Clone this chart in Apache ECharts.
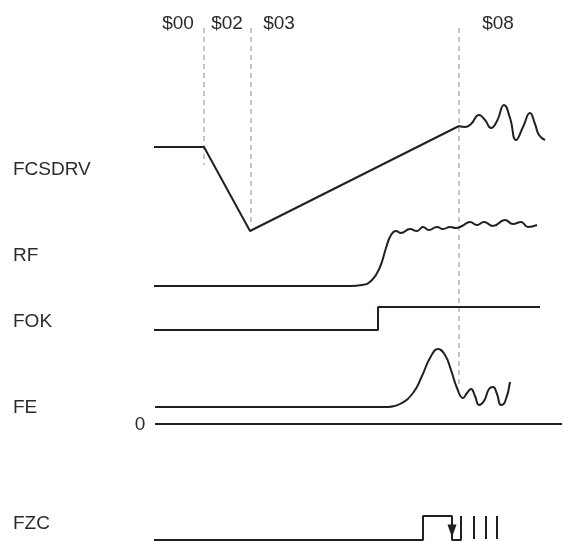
<!DOCTYPE html>
<html><head><meta charset="utf-8">
<script src="https://cdn.jsdelivr.net/npm/echarts@6/dist/echarts.min.js"></script>
<style>html,body{margin:0;padding:0;background:#fff}#c{width:563px;height:542px}</style>
</head><body><div id="c"></div>
<script>
// Time markers (x in time units) and their labels
const markerNames = ['$00', '$02', '$03', '$08'];
const markerLabelT = [178, 227, 279, 498];
const boundaryT = [204, 251, 459];
const boundaryEnd = [165, 222, 387];
const boundaryStart = 28;
const markerLabelY = 24;

// Signal names and label levels
const signalNames = ['FCSDRV', 'RF', 'FOK', 'FE', 'FZC'];
const signalLabelY = [170, 256, 322, 408, 524];
const signalLabelT = 13;
const zeroLabel = { text: '0', t: 140, y: 425 };

// Waveforms [t, level]
const fcsdrvLinear = [[154,147],[204,147],[250,231],[459,126]];
const fcsdrvWave = [[459,126],[465,127],[471,124],[479,115],[485,120],[491,128],[497,121],[504,105],[510,118],[516,140],[523,127],[530,113],[535,124],[539,135],[545,140]];
const rfFlat = [[154,286],[350,286]];
const rfRise = [[350,286],[362,285],[372,280],[380,267],[386,248],[391,235],[396,231],[401,233],[410,229],[417,231],[423,227],[429,230],[437,227],[443,229],[450,227],[456,228],[462,226],[470,222],[477,225],[484,222],[493,226],[505,220],[513,224],[521,222],[528,227],[537,225]];
const fok = [[154,330],[378,330],[378,307],[540,307]];
const feFlat = [[155,407],[388,407]];
const feCurve = [[388,407],[400,404],[413,393],[422,376],[430,358],[438,349],[445,355],[451,370],[457,388],[463,398],[467,393],[471,389],[475,396],[479,405],[484,401],[489,389],[493,387],[497,394],[501,405],[505,402],[510,382]];
const zeroLine = [[155,424],[562,424]];
const fzc = [[154,540],[423,540],[423,516],[452,516],[452,540],[461,540],[461,516]];
const fzcArrow = [[452,531]];
const fzcTicks = [474, 486, 497];
const fzcTickTop = 516, fzcTickBottom = 539;

const INK = '#231f20';
const TEXT = '#2b2b2b';
const FONT = 'Liberation Sans, Arial, sans-serif';

function line(data, smooth, width) {
  return { type: 'line', data, smooth: smooth || false, symbol: 'none', silent: true,
           lineStyle: { color: INK, width: width || 2 }, z: 3 };
}

const series = [
  line(fcsdrvLinear), line(fcsdrvWave, 0.5),
  line(rfFlat), line(rfRise, 0.5),
  line(fok),
  line(feFlat), line(feCurve, 0.5),
  line(zeroLine, false, 2.2),
  line(fzc),
];
fzcTicks.forEach(t => series.push(line([[t, fzcTickTop], [t, fzcTickBottom]])));
boundaryT.forEach((t, i) => series.push({
  type: 'line', data: [[t, boundaryStart], [t, boundaryEnd[i]]], symbol: 'none', silent: true,
  lineStyle: { color: '#8c8c8c', width: 1, type: [5, 4] }, z: 2
}));
series.push({
  type: 'scatter', data: fzcArrow, symbol: 'triangle', symbolRotate: 180, symbolSize: [9, 13],
  itemStyle: { color: INK, opacity: 1 }, silent: true, z: 4
});
const textData = [];
markerNames.forEach((n, i) => textData.push({ value: [markerLabelT[i], markerLabelY], name: n,
  label: { align: 'center' } }));
signalNames.forEach((n, i) => textData.push({ value: [signalLabelT, signalLabelY[i]], name: n,
  label: { align: 'left' } }));
textData.push({ value: [zeroLabel.t, zeroLabel.y], name: zeroLabel.text, label: { align: 'center' } });
series.push({
  type: 'scatter', data: textData, symbolSize: 0, silent: true, z: 5,
  itemStyle: { opacity: 1, color: TEXT },
  label: { show: true, position: 'inside', formatter: p => p.name, color: TEXT, opacity: 1,
           fontSize: 19, fontFamily: FONT, verticalAlign: 'middle',
           textBorderWidth: 0 }
});

const chart = echarts.init(document.getElementById('c'), null, { renderer: 'canvas' });
chart.setOption({
  animation: false,
  backgroundColor: '#fff',
  grid: { left: 0, right: 0, top: 0, bottom: 0 },
  xAxis: { type: 'value', min: 0, max: 563, show: false },
  yAxis: { type: 'value', min: 0, max: 542, inverse: true, show: false },
  series
});
</script></body></html>
